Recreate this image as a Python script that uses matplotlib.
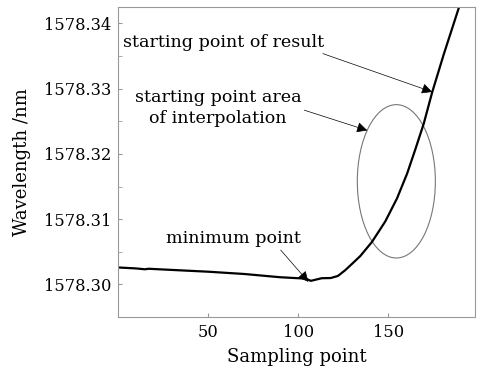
import numpy as np
import matplotlib.pyplot as plt
from matplotlib.patches import Ellipse

# sampling point vs wavelength
sample = [0, 10, 15, 17, 30, 50, 70, 90, 100, 104, 107, 110, 113, 118, 122,
          126, 130, 134.4, 140.9, 148.3, 154.8, 160.4, 165, 169.6, 174.3,
          180.7, 189.1, 192]
wavelength = [1578.30260, 1578.30245, 1578.30232, 1578.30240, 1578.30222,
              1578.30195, 1578.30160, 1578.30110, 1578.30095, 1578.30090,
              1578.30055, 1578.30075, 1578.30095, 1578.30098, 1578.30130,
              1578.30217, 1578.30320, 1578.30435, 1578.30652, 1578.30967,
              1578.31320, 1578.31700, 1578.32075, 1578.32464, 1578.32946,
              1578.33526, 1578.34242, 1578.34500]

plt.rcParams['font.family'] = 'DejaVu Serif'

fig = plt.figure(figsize=(4.83, 3.73), dpi=100)
ax = fig.add_axes([0.2443, 0.150, 0.739, 0.831])

ax.plot(sample, wavelength, color='black', lw=1.6)

ax.add_patch(Ellipse((154.4, 1578.3158), 43.3, 0.0235, fill=False,
                     edgecolor='#777777', lw=0.8))

ax.set_xlim(0, 198)
ax.set_ylim(1578.2975, 1578.3425)
ax.set_xticks([50, 100, 150])
ax.set_yticks([1578.30, 1578.31, 1578.32, 1578.33, 1578.34])
ax.set_yticks(np.arange(1578.295, 1578.345, 0.005), minor=True)
ax.set_yticklabels(['1578.30', '1578.31', '1578.32', '1578.33', '1578.34'])
ax.tick_params(direction='in', length=3, color='#999999', labelsize=11.7,
               pad=5)
ax.tick_params(which='minor', direction='in', length=3, color='#999999')
for s in ax.spines.values():
    s.set_color('#999999')
    s.set_linewidth(0.8)

ax.set_xlabel('Sampling point', fontsize=13, labelpad=5)
ax.set_ylabel('Wavelength /nm', fontsize=13, labelpad=9)

arrow = dict(arrowstyle='-|>', color='black', lw=0.5, mutation_scale=16,
             shrinkA=0, shrinkB=0)
ax.annotate('starting point of result', xy=(174.3, 1578.3295),
            xytext=(2.8, 1578.3371), fontsize=12.6, ha='left', va='center',
            arrowprops=dict(arrow, relpos=(0.93, 0.1)))
ax.annotate('starting point area\nof interpolation', xy=(138.3, 1578.3236),
            xytext=(55.6, 1578.3270), fontsize=12.6, ha='center',
            va='center', linespacing=1.3,
            arrowprops=dict(arrow, relpos=(0.98, 0.5)))
ax.annotate('minimum point', xy=(105.6, 1578.3004), xytext=(64.2, 1578.3070),
            fontsize=12.6, ha='center', va='center',
            arrowprops=dict(arrow, relpos=(0.83, 0)))

fig.savefig('out.png', dpi=100)
